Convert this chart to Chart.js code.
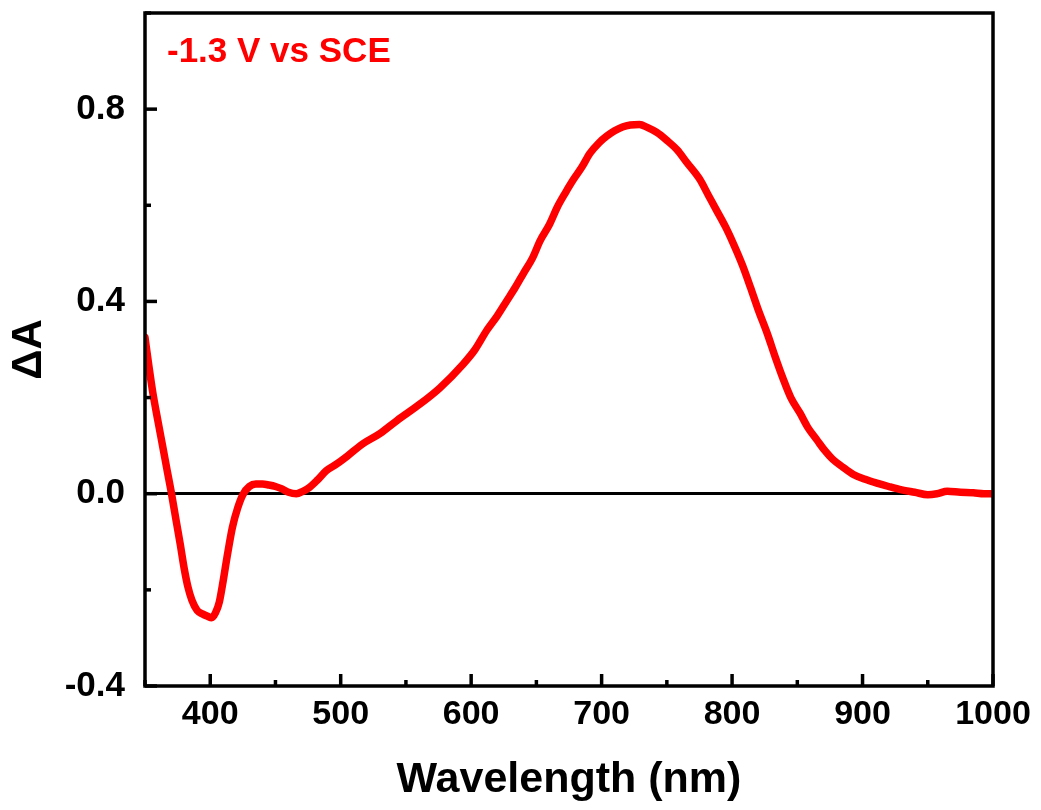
<!DOCTYPE html>
<html>
<head>
<meta charset="utf-8">
<script src="https://cdn.jsdelivr.net/npm/chart.js@4.4.1/dist/chart.umd.min.js"></script>
<style>
  html, body { margin: 0; padding: 0; background: #fff; }
  #wrap { width: 1041px; height: 810px; }
</style>
</head>
<body>
<div id="wrap"><canvas id="spectrum" width="1041" height="810"></canvas></div>
<script>
// values
const wavelength = [
  350, 353, 356, 360, 364, 367, 370, 374, 377, 380, 383, 386, 390, 394, 398, 401,
  404, 407, 410, 413, 417, 421, 425, 430, 435, 440, 445, 450, 455, 460, 466, 471,
  476, 482, 489, 497, 505, 517, 530, 543, 561, 576, 594, 603, 612, 620, 627, 634,
  640, 647, 653, 660, 666, 672, 678, 685, 691, 698, 704, 710, 716, 722, 729, 735,
  742, 750, 758, 765, 775, 782, 788, 795, 801, 808, 814, 820, 827, 833, 839, 845,
  852, 858, 865, 871, 877, 885, 893, 902, 911, 920, 930, 940, 950, 957, 965, 975,
  985, 993, 1000
];
const deltaA = [
  0.325, 0.265, 0.21, 0.15, 0.092, 0.048, 0.005, -0.058, -0.105, -0.155, -0.195, -0.222, -0.243, -0.25, -0.255, -0.258,
  -0.248, -0.225, -0.18, -0.13, -0.07, -0.03, -0.002, 0.015, 0.02, 0.02, 0.018, 0.015, 0.01, 0.003, 0.0, 0.005,
  0.013, 0.028, 0.048, 0.062, 0.078, 0.104, 0.125, 0.152, 0.187, 0.22, 0.27, 0.30, 0.34, 0.37, 0.40, 0.43,
  0.458, 0.49, 0.527, 0.56, 0.596, 0.625, 0.652, 0.68, 0.708, 0.73, 0.744, 0.755, 0.763, 0.767, 0.768, 0.762,
  0.752, 0.735, 0.715, 0.69, 0.655, 0.62, 0.59, 0.555, 0.52, 0.475, 0.43, 0.383, 0.333, 0.285, 0.24, 0.20,
  0.168, 0.138, 0.112, 0.09, 0.072, 0.055, 0.04, 0.03, 0.022, 0.015, 0.008, 0.003, -0.002, 0.0, 0.005, 0.003,
  0.002, 0.0, 0.0
];
const xLabels = [400, 500, 600, 700, 800, 900, 1000];
const yLabels = [-0.4, 0.0, 0.4, 0.8];
const potentialLabel = '-1.3 V vs SCE';

const FONT = '"Liberation Sans", Arial, Helvetica, sans-serif';

// frame, inward ticks and the potential note
const framePlugin = {
  id: 'frame',
  afterDraw(chart) {
    const { ctx, chartArea: a, scales } = chart;
    ctx.save();
    ctx.strokeStyle = '#000';
    ctx.lineWidth = 3.5;
    ctx.lineCap = 'butt';

    scales.x.ticks.forEach(t => {
      const px = scales.x.getPixelForValue(t.value);
      const len = xLabels.includes(t.value) ? 12 : 6;
      ctx.beginPath();
      ctx.moveTo(px, a.bottom);
      ctx.lineTo(px, a.bottom - len);
      ctx.stroke();
    });
    scales.y.ticks.forEach(t => {
      const v = Math.round(t.value * 10) / 10;
      const py = scales.y.getPixelForValue(t.value);
      const len = yLabels.includes(v) ? 12 : 6;
      ctx.beginPath();
      ctx.moveTo(a.left, py);
      ctx.lineTo(a.left + len, py);
      ctx.stroke();
    });

    ctx.strokeRect(a.left, a.top, a.right - a.left, a.bottom - a.top);

    ctx.fillStyle = '#ff0000';
    ctx.font = 'bold 35px ' + FONT;
    ctx.textBaseline = 'alphabetic';
    ctx.textAlign = 'left';
    ctx.fillText(potentialLabel, a.left + 22, a.top + 49);
    ctx.restore();
  }
};

new Chart(document.getElementById('spectrum'), {
  type: 'scatter',
  data: {
    datasets: [{
      label: 'dA',
      data: wavelength.map((w, i) => ({ x: w, y: deltaA[i] })),
      showLine: true,
      borderColor: '#ff0000',
      backgroundColor: '#ff0000',
      borderWidth: 7.5,
      pointRadius: 0,
      cubicInterpolationMode: 'monotone',
      borderJoinStyle: 'round',
      borderCapStyle: 'round'
    }]
  },
  options: {
    responsive: false,
    animation: false,
    devicePixelRatio: 1,
    layout: { padding: { left: 0, right: 48, top: 13, bottom: 0 } },
    plugins: {
      legend: { display: false },
      tooltip: { enabled: false }
    },
    scales: {
      x: {
        type: 'linear',
        min: 350,
        max: 1000,
        border: { display: false },
        grid: { display: false, drawTicks: false },
        ticks: {
          stepSize: 50,
          padding: 8,
          color: '#000',
          font: { family: FONT, size: 34, weight: 'bold' },
          maxRotation: 0,
          autoSkip: false,
          callback: v => xLabels.includes(v) ? String(v) : ''
        },
        title: {
          display: true,
          text: 'Wavelength (nm)',
          color: '#000',
          font: { family: FONT, size: 43, weight: 'bold' },
          padding: { top: 4, bottom: 4 }
        },
        afterFit: s => { s.height = 124; s.paddingLeft = 0; s.paddingRight = 0; }
      },
      y: {
        min: -0.4,
        max: 1.0,
        border: { display: false },
        grid: {
          drawTicks: false,
          lineWidth: 3,
          color: c => (c.tick && Math.abs(c.tick.value) < 1e-9) ? '#000' : 'rgba(0,0,0,0)'
        },
        ticks: {
          stepSize: 0.2,
          padding: 20,
          color: '#000',
          font: { family: FONT, size: 35, weight: 'bold' },
          autoSkip: false,
          callback: v => {
            const r = Math.round(v * 10) / 10;
            return yLabels.includes(r) ? r.toFixed(1) : '';
          }
        },
        title: {
          display: true,
          text: 'ΔA',
          color: '#000',
          font: { family: FONT, size: 42, weight: 'bold' },
          padding: { top: 4, bottom: 0 }
        },
        afterFit: s => { s.width = 145; s.paddingTop = 0; s.paddingBottom = 0; }
      }
    }
  },
  plugins: [framePlugin]
});
</script>
</body>
</html>
